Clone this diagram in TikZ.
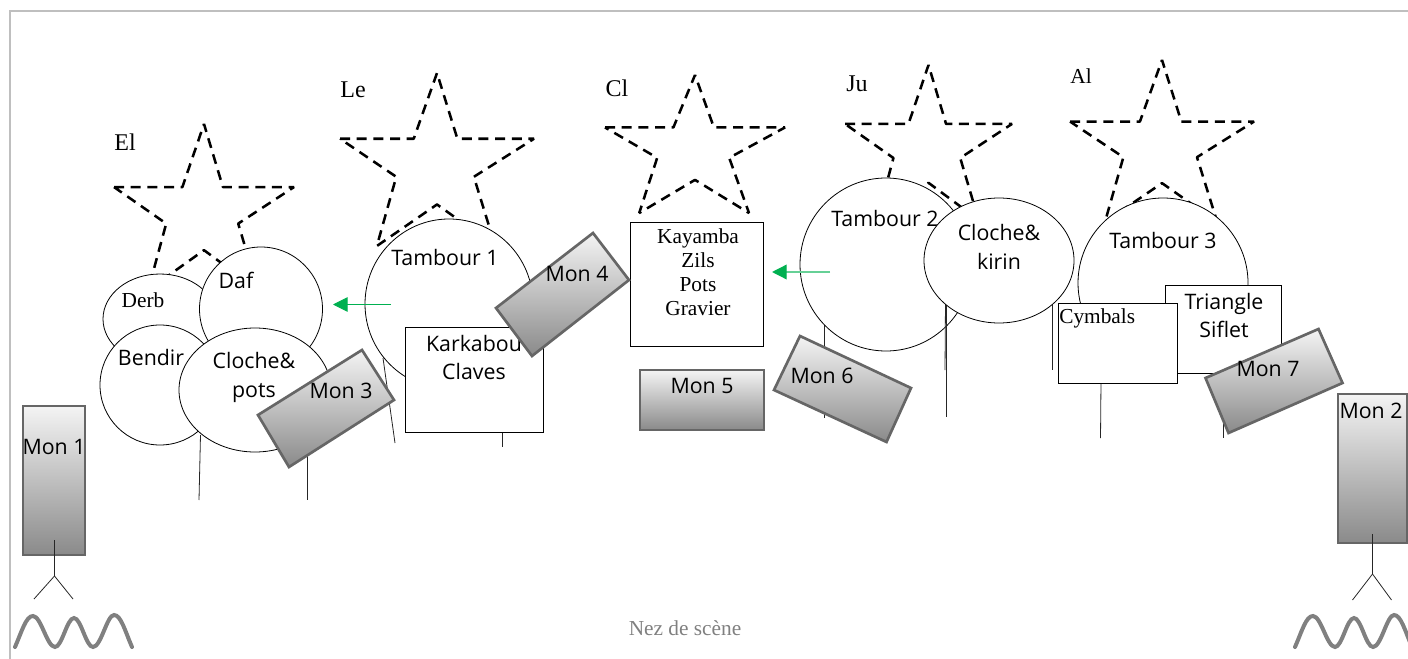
\documentclass[tikz,border=0pt]{standalone}
\usepackage{fontspec}
\setmainfont{Liberation Serif}
\newfontfamily\drumfont{Open Sans}
\usetikzlibrary{arrows.meta}
\definecolor{framegray}{HTML}{BFBFBF}
\definecolor{monedge}{HTML}{666666}
\definecolor{montop}{HTML}{F4F4F4}
\definecolor{monbot}{HTML}{8A8A8A}
\definecolor{cuegreen}{HTML}{00B050}
\tikzset{
    frameline/.style={draw=framegray, line width=1pt},
    stardash/.style={draw=black, line width=1.9pt, line join=bevel, dash pattern=on 7.5pt off 5pt},
    drum/.style={draw=black, fill=white, line width=0.6pt},
    stand/.style={draw=black!85, line width=0.6pt},
    box/.style={draw=black, fill=white, line width=0.6pt},
    mon/.style={draw=monedge, line width=2pt, top color=montop, bottom color=monbot},
    wave/.style={draw=black!50, line width=3pt, line cap=round},
    cue/.style={draw=cuegreen, line width=0.7pt, -{Triangle[length=11pt,width=11pt,color=cuegreen]}},
    sanstext/.style={font=\drumfont\fontsize{16}{21.7}\selectfont, inner sep=0pt, align=center},
    seriftext/.style={font=\fontsize{16}{18}\selectfont, inner sep=0pt, align=center},
    namelabel/.style={font=\fontsize{18}{20}\selectfont, inner sep=0pt},
}
\newcommand{\dashstar}[4]{
    \draw[stardash, shift={(#1,#2)}, x={#3*0.75pt}, y={-#4*0.75pt}]
        (0,.38) -- (.38,.38) -- (.5,0) -- (.605,.38) -- (1,.38) -- (.69,.60)
        -- (.80,1) -- (.5,.76) -- (.19,1) -- (.29,.60) -- cycle;
}
\newcommand{\stagewave}[1]{
    \draw[wave, shift={(#1,647)}] (1,0) .. controls (8,-16) and (12,-31) .. (19,-31)
        .. controls (27,-31) and (33,0) .. (41,0)
        .. controls (48,0) and (53,-29) .. (60,-29)
        .. controls (67,-29) and (72,0) .. (79,0)
        .. controls (87,0) and (93,-32) .. (100,-32)
        .. controls (107,-32) and (111,-16) .. (118,0);
}
\begin{document}
\begin{tikzpicture}[x=0.75pt, y=-0.75pt]
\useasboundingbox (0,0) rectangle (1408,659);
\draw[frameline] (10,659) -- (10,11) -- (1408,11);
% stars
\dashstar{114}{124}{180}{166}
\dashstar{340}{73}{194}{173}
\dashstar{605}{75}{180}{138}
\dashstar{845}{65}{167}{155}
\dashstar{1070}{60}{184}{162}
\node[namelabel] (el) at (125,142) {El};
\node[namelabel] (le) at (353,90) {Le};
\node[namelabel] (cl) at (617,88) {Cl};
\node[namelabel] (ju) at (857,84) {Ju};
\node[namelabel, font=\fontsize{16}{18}\selectfont] (al) at (1081,76) {Al};
% stands
\draw[stand] (200.5,435) -- (199,500);
\draw[stand] (307,450) -- (307,500);
\draw[stand] (383,358) -- (395,443);
\draw[stand] (502,430) -- (502,447);
\draw[stand] (824,325) -- (824,418);
\draw[stand] (1052,300) -- (1052,370);
\draw[stand] (1101,380) -- (1100.5,438);
\draw[stand] (1223,415) -- (1223,438);
% drums, left group
\draw[drum] (160,319) ellipse (57 and 45);
\draw[drum] (261,309) ellipse (61.5 and 62);
\draw[drum] (160,385) ellipse (60 and 60);
\draw[drum] (255,390) ellipse (76 and 62);
\node[seriftext] (derb) at (143,300) {Derb};
\node[sanstext] (daf) at (236,280) {Daf};
\node[sanstext] (bendir) at (151,357) {Bendir};
\node[sanstext] (clochepots) at (254,377) {Cloche\&\\pots};
% drums and boxes, middle
\draw[drum] (449,304) ellipse (84 and 85);
\node[sanstext] (tambour1) at (445,257) {Tambour 1};
\draw[box] (405,327) rectangle (543,432);
\node[sanstext] (karkabou) at (474,357.5) {Karkabou\\Claves};
\draw[box] (630.5,222) rectangle (763.5,346);
\node[seriftext] (kayamba) at (698,272) {Kayamba\\Zils\\Pots\\Gravier};
\draw[drum] (886,264.5) ellipse (86 and 86.5);
\node[sanstext] (tambour2) at (885,219) {Tambour 2};
\draw[stand] (945.5,300) -- (945,370);
\draw[stand] (946.5,300) -- (946.5,417);
\draw[drum] (999,260.5) ellipse (75 and 62.5);
\node[sanstext] (clochekirin) at (999,246.5) {Cloche\&\\kirin};
% right group
\draw[drum] (1163,283) ellipse (85 and 85);
\node[sanstext] (tambour3) at (1163,240) {Tambour 3};
\draw[box] (1165,285) rectangle (1281,373);
\node[sanstext] (triangle) at (1224,315.5) {Triangle\\Siflet};
\draw[box] (1058,303) rectangle (1177,383);
\node[seriftext, anchor=west] (cymbals) at (1059,318) {Cymbals};
% monitors
\draw[mon] (23,406) rectangle (85,555);
\node[sanstext] (mon1) at (54,447) {Mon 1};
\draw[mon] (1338,394) rectangle (1407,543);
\node[sanstext] (mon2) at (1371,411) {Mon 2};
\draw[mon] (362,350) -- (394,400) -- (289,467) -- (258,415) -- cycle;
\node[sanstext] (mon3) at (341,391) {Mon 3};
\draw[mon] (593,233) -- (629,280) -- (532,356) -- (496,308) -- cycle;
\node[sanstext] (mon4) at (577,274) {Mon 4};
\draw[mon] (640,370) rectangle (764,430);
\node[sanstext] (mon5) at (702,386) {Mon 5};
\draw[mon] (800,336) -- (911,388) -- (886.5,442) -- (774,390) -- cycle;
\node[sanstext] (mon6) at (822,376) {Mon 6};
\draw[mon] (1318.5,329) -- (1342.5,383) -- (1228.5,433) -- (1205.5,378) -- cycle;
\node[sanstext] (mon7) at (1268,369) {Mon 7};
% cues
\coordinate (cue1a) at (391,304.5);
\coordinate (cue1b) at (333,304.5);
\coordinate (cue2a) at (830,272);
\coordinate (cue2b) at (772,272);
\draw[cue] (cue1a) -- (cue1b);
\draw[cue, draw=cuegreen!60, line width=1pt] (cue2a) -- (cue2b);
% musicians in front
\coordinate (head1) at (54.5,540);
\coordinate (hip1) at (54.5,576);
\coordinate (footl1) at (34,599);
\coordinate (footr1) at (73,599);
\draw[stand] (head1) -- (hip1) -- (footl1);
\draw[stand] (hip1) -- (footr1);
\coordinate (head2) at (1372.5,534);
\coordinate (hip2) at (1372.5,574);
\coordinate (footl2) at (1352.5,600);
\coordinate (footr2) at (1391.5,600);
\draw[stand] (head2) -- (hip2) -- (footl2);
\draw[stand] (hip2) -- (footr2);
\stagewave{14}
\stagewave{1294}
\node[seriftext, text=black!50] (nez) at (685,628) {Nez de scène};
\end{tikzpicture}
\end{document}
